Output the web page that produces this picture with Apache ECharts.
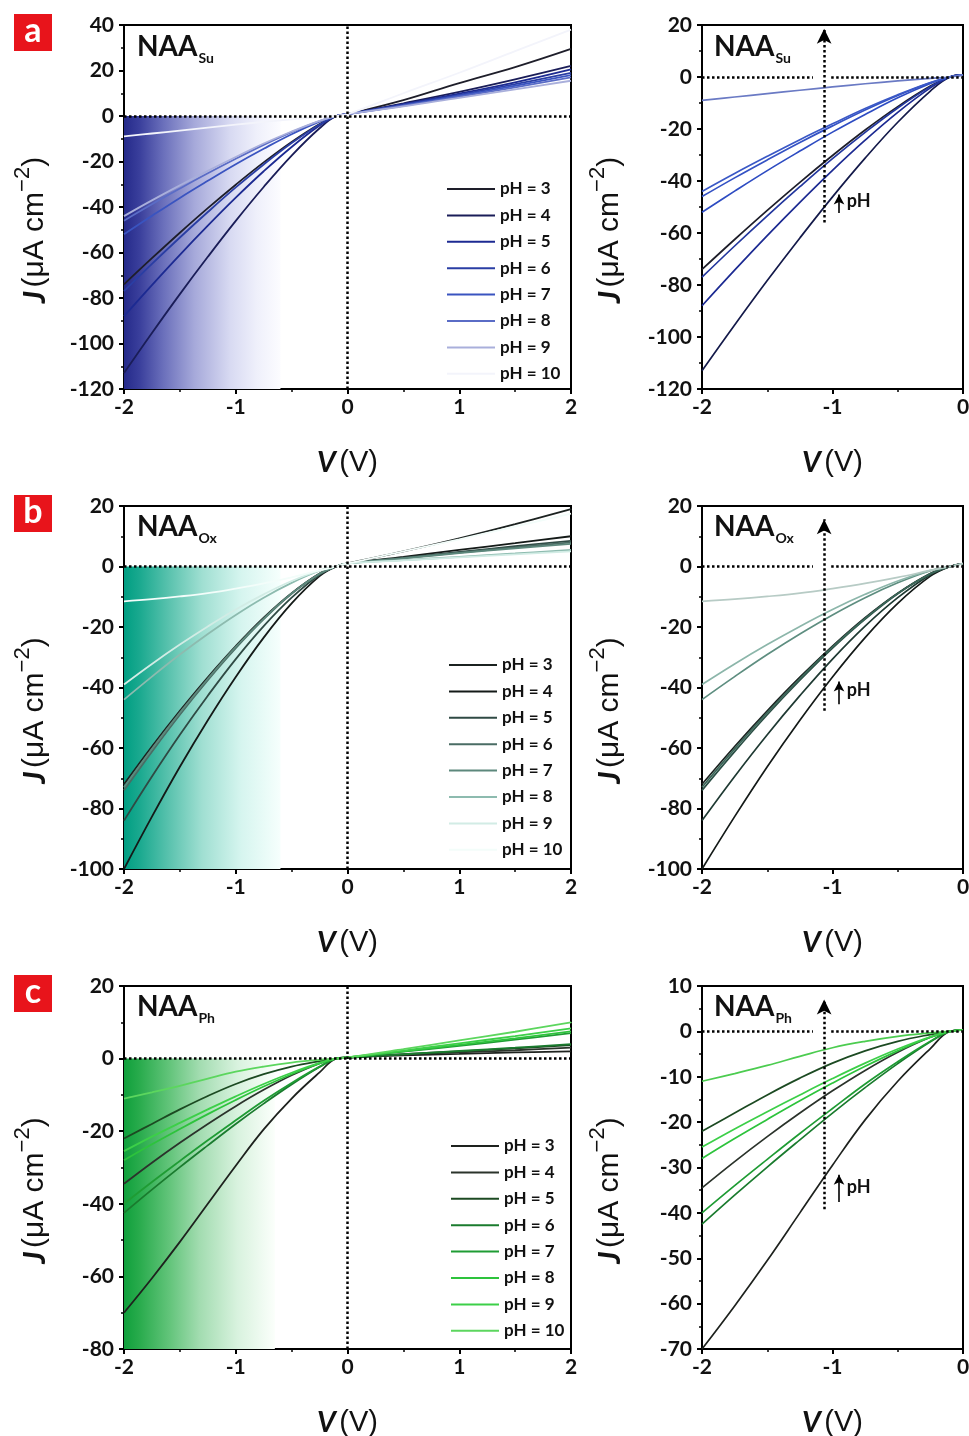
<!DOCTYPE html>
<html><head><meta charset="utf-8">
<script src="https://cdn.jsdelivr.net/npm/echarts@6/dist/echarts.min.js"></script>
<style>html,body{margin:0;padding:0;background:#fff}#c{width:969px;height:1436px}</style>
</head><body><div id="c"></div>
<script>
// ---------- DATA ----------
const V = [-2,-1.75,-1.5,-1.25,-1,-0.75,-0.5,-0.25,-0.1,0,0.5,1,1.5,2];
const pHValues = ['3','4','5','6','7','8','9','10'];

// NAA_Su
const Su_pH3  = [-74,-62.5,-51.3,-40.5,-30.2,-20.4,-11.4,-3.5,0,0.8,7,14.5,21.5,29.5];
const Su_pH4  = [-113,-95.4,-78.3,-61.9,-46.1,-31.2,-17.4,-5.4,0,0.8,5.6,10.6,16.1,22];
const Su_pH5  = [-88,-74.3,-61,-48.2,-35.9,-24.3,-13.6,-4.2,0,0.8,5.2,9.8,14.8,20.5];
const Su_pH6  = [-77,-65,-53.4,-42.2,-31.4,-21.3,-11.9,-3.7,0,0.8,5,9.3,14,19];
const Su_pH7  = [-52,-43.9,-36,-28.5,-21.2,-14.4,-8,-2.5,0,0.8,4.7,8.9,13.3,18];
const Su_pH8  = [-46,-38.8,-31.9,-25.2,-18.8,-12.7,-7.1,-2.2,0,0.8,4.5,8.5,12.6,17];
const Su_pH9  = [-44,-37.1,-30.5,-24.1,-18,-12.1,-6.8,-2.1,0,0.8,4.2,8,11.7,15.5];
const Su_pH10 = [-9,-7.7,-6.4,-5.1,-3.8,-2.6,-1.5,-0.5,0,0.8,10,19,28.5,38];

// NAA_Ox
const Ox_pH3  = [-72,-59.5,-47.7,-36.6,-26.3,-16.9,-8.8,-2.3,0,1,5,9.3,14,19];
const Ox_pH4  = [-100,-82.7,-66.2,-50.8,-36.5,-23.5,-12.2,-3.2,0,1,3.2,5.5,7.7,10];
const Ox_pH5  = [-84,-69.4,-55.6,-42.7,-30.6,-19.7,-10.3,-2.7,0,1,2.9,4.8,6.7,8.5];
const Ox_pH6  = [-74,-61.2,-49,-37.6,-27,-17.4,-9,-2.4,0,1,2.8,4.6,6.3,8];
const Ox_pH7  = [-73,-60.3,-48.3,-37.1,-26.6,-17.2,-8.9,-2.4,0,1,2.7,4.4,6,7.5];
const Ox_pH8  = [-44,-36.4,-29.1,-22.3,-16,-10.3,-5.4,-1.4,0,1,2.1,3.2,4.3,5.5];
const Ox_pH9  = [-39,-32.2,-25.8,-19.8,-14.2,-9.2,-4.8,-1.3,0,1,2,3,4,5];
const Ox_pH10 = [-11.5,-10.8,-9.9,-8.8,-7.3,-5.6,-3.6,-1.3,0,1,5,9,13.2,17.5];

// NAA_Ph
const Ph_pH3  = [-70,-60.5,-50.5,-40,-29.5,-19.5,-11,-3.8,0,0.3,0.9,1.3,1.7,2];
const Ph_pH4  = [-34.5,-28.7,-23.2,-18,-13.1,-8.6,-4.6,-1.3,0,0.3,1.1,1.7,2.3,3];
const Ph_pH5  = [-22,-18,-14,-10.3,-7,-4.3,-2.2,-0.7,0,0.3,1.2,2,2.8,3.7];
const Ph_pH6  = [-42.5,-36.1,-29.9,-23.9,-18,-12.4,-7.1,-2.3,0,0.3,1.2,2.1,3,4];
const Ph_pH7  = [-40,-34,-28.2,-22.5,-17,-11.6,-6.7,-2.2,0,0.3,1.9,3.5,5.2,7];
const Ph_pH8  = [-28,-23.6,-19.4,-15.3,-11.4,-7.7,-4.3,-1.3,0,0.3,2,3.8,5.6,7.5];
const Ph_pH9  = [-25.5,-21.5,-17.7,-14,-10.4,-7,-3.9,-1.2,0,0.3,2.2,4.2,6.2,8.3];
const Ph_pH10 = [-11,-9.3,-7.5,-5.5,-3.6,-2.2,-1.1,-0.35,0,0.3,2.6,5,7.4,10];

const SU = [Su_pH3,Su_pH4,Su_pH5,Su_pH6,Su_pH7,Su_pH8,Su_pH9,Su_pH10];
const OX = [Ox_pH3,Ox_pH4,Ox_pH5,Ox_pH6,Ox_pH7,Ox_pH8,Ox_pH9,Ox_pH10];
const PH = [Ph_pH3,Ph_pH4,Ph_pH5,Ph_pH6,Ph_pH7,Ph_pH8,Ph_pH9,Ph_pH10];

// ---------- STYLE / LAYOUT ----------
const FONT = 'Lato, "Liberation Sans", sans-serif';
const panels = [
  {key:'Su', letter:'a', data:SU, top:25, h:364, yL:[-120,40,20], yR:[-120,20,20],
   colL:['#1e1e2a','#1a1d58','#1c2a92','#2a3ea4','#3a54c0','#5a6cc6','#a9afdb','#f3f4fb'],
   colR:['#1e1e2a','#141a4a','#1c2a92','#23379e','#2e4cc2','#3452c4','#3a58c6','#6a7ac4'],
   grad:[[0,'#252a8a'],[0.1,'#3a3f9c'],[0.25,'#6a6fbb'],[0.45,'#a6a9da'],[0.68,'#d8daf2'],[0.85,'#eff0fb'],[1,'#fcfcff']],
   gradEnd:-0.6, arrow:[-56,18.6], phText:-47.8, phArr:[-52.3,-45.2], legTop:179, legLeft:447, boxY:14, naaY:47},
  {key:'Ox', letter:'b', data:OX, top:506, h:363, yL:[-100,20,20], yR:[-100,20,20],
   colL:['#1b2220','#141a18','#2f4a44','#4a6c64','#5d887c','#8dbbaf','#d2ece5','#f3fdfa'],
   colR:['#1b2220','#141a18','#1f3a33','#2c5046','#3a6658','#5e8e80','#8cb6aa','#b7cbc5'],
   grad:[[0,'#009e82'],[0.1,'#1aa98f'],[0.3,'#5ec4b0'],[0.5,'#a0dfd2'],[0.75,'#d6f5ef'],[1,'#f6fffd']],
   gradEnd:-0.6, arrow:[-47.7,15.6], phText:-41, phArr:[-45.5,-38], legTop:655, legLeft:449, boxY:495, naaY:527},
  {key:'Ph', letter:'c', data:PH, top:986, h:363, yL:[-80,20,20], yR:[-70,10,10],
   colL:['#1e221e','#2b332b','#1c4a22','#1a7b2e','#1f9c34','#2dc33c','#3ccf48','#5cd65e'],
   colR:['#1e221e','#2b332b','#1c4a22','#1a7b2e','#1f9c34','#2dc33c','#3ccf48','#4ccc50'],
   grad:[[0,'#10a03c'],[0.1,'#28ab4c'],[0.3,'#62c47a'],[0.5,'#a2dcb0'],[0.75,'#d8f2de'],[1,'#fbfffb']],
   gradEnd:-0.65, arrow:[-39.2,7], phText:-34.4, phArr:[-37.6,-31.6], legTop:1136, legLeft:451, boxY:975, naaY:1007}
];

const chart = echarts.init(document.getElementById('c'), null, {renderer:'canvas'});
const grids=[], xAxes=[], yAxes=[], series=[], legends=[], graphics=[];
const mctx = document.createElement('canvas').getContext('2d');

function xAxisCfg(gi, max) {
  return {type:'value', gridIndex:gi, min:-2, max:max, interval:1,
    axisLine:{show:true, onZero:false, lineStyle:{color:'#000', width:2}},
    axisTick:{show:true, inside:false, length:5, lineStyle:{color:'#000', width:2}},
    minorTick:{show:true, splitNumber:2, length:3, lineStyle:{color:'#000', width:1.5}},
    splitLine:{show:false},
    axisLabel:{show:true, margin:8, color:'#111', fontSize:21, fontWeight:'bold', fontFamily:FONT, showMinLabel:true, showMaxLabel:true},
    name:'{i|V} {r|(V)}', nameLocation:'middle', nameGap:59,
    nameTextStyle:{rich:{i:{fontSize:29, fontWeight:'bold', fontStyle:'italic', fontFamily:FONT, color:'#111'},
                         r:{fontSize:29, fontFamily:'"Liberation Sans", sans-serif', color:'#111'}}}
  };
}
function yAxisCfg(gi, rng, gap) {
  return {type:'value', gridIndex:gi, min:rng[0], max:rng[1], interval:rng[2],
    axisLine:{show:true, onZero:false, lineStyle:{color:'#000', width:2}},
    axisTick:{show:true, inside:false, length:5, lineStyle:{color:'#000', width:2}},
    minorTick:{show:true, splitNumber:2, length:3, lineStyle:{color:'#000', width:1.5}},
    splitLine:{show:false},
    axisLabel:{show:true, margin:10, color:'#111', fontSize:21, fontWeight:'bold', fontFamily:FONT, showMinLabel:true, showMaxLabel:true},
    name:'{i|J} {r|(μA cm}{s|−2}{r|)}', nameLocation:'middle', nameRotate:90, nameGap:gap,
    nameTextStyle:{padding:[0,46,0,0],
      rich:{i:{fontSize:30, fontWeight:'bold', fontStyle:'italic', fontFamily:FONT, color:'#111', lineHeight:38, verticalAlign:'bottom'},
            r:{fontSize:30, fontFamily:'"Liberation Sans", sans-serif', color:'#111', lineHeight:38, verticalAlign:'bottom'},
            s:{fontSize:22, fontFamily:'"Liberation Sans", sans-serif', color:'#111', lineHeight:38, verticalAlign:'top'}}}
  };
}

panels.forEach((p, r) => {
  const gL = grids.length, gR = gL + 1;
  grids.push({left:124, top:p.top, width:447, height:p.h, show:true, borderColor:'#000', borderWidth:2, containLabel:false, outerBoundsMode:'none'});
  grids.push({left:702, top:p.top, width:261, height:p.h, show:true, borderColor:'#000', borderWidth:2, containLabel:false, outerBoundsMode:'none'});
  xAxes.push(xAxisCfg(gL, 2)); xAxes.push(xAxisCfg(gR, 0));
  yAxes.push(yAxisCfg(gL, p.yL, 74)); yAxes.push(yAxisCfg(gR, p.yR, 77));

  // gradient background (left)
  series.push({type:'line', name:'bg'+r, xAxisIndex:gL, yAxisIndex:gL, data:[], z:1, silent:true, animation:false,
    markArea:{silent:true, animation:false,
      itemStyle:{color:new echarts.graphic.LinearGradient(0,0,1,0,p.grad.map(s=>({offset:s[0], color:s[1]})))},
      data:[[{xAxis:-2, yAxis:0},{xAxis:p.gradEnd, yAxis:p.yL[0]}]]}});

  const names = pHValues.map(v => p.key + ' pH = ' + v);
  p.data.forEach((arr, k) => {
    series.push({type:'line', name:names[k], xAxisIndex:gL, yAxisIndex:gL,
      data:V.map((v,i)=>[v, arr[i]]), showSymbol:false, smooth:0.4,
      color:p.colL[k], lineStyle:{width:1.8, color:p.colL[k]}, itemStyle:{color:p.colL[k]}, z:3, animation:false, silent:true});
  });
  p.data.forEach((arr, k) => {
    series.push({type:'line', name:names[k], xAxisIndex:gR, yAxisIndex:gR,
      data:V.map((v,i)=>[v, arr[i]]).filter(d=>d[0]<=0), showSymbol:false, smooth:0.4,
      color:p.colR[k], lineStyle:{width:1.7, color:p.colR[k]}, itemStyle:{color:p.colR[k]}, z:3, animation:false, silent:true});
  });

  const dot = {type:'dotted', color:'#000', width:2.5};
  series.push({type:'line', name:'ml'+r, xAxisIndex:gL, yAxisIndex:gL, data:[], z:4, silent:true, animation:false,
    markLine:{silent:true, animation:false, symbol:'none', label:{show:false}, lineStyle:dot,
      data:[[{coord:[-2,0]},{coord:[2,0]}],[{coord:[0,p.yL[0]]},{coord:[0,p.yL[1]]}]]}});
  series.push({type:'line', name:'mr'+r, xAxisIndex:gR, yAxisIndex:gR, data:[], z:4, silent:true, animation:false,
    markLine:{silent:true, animation:false, symbol:'none', label:{show:false}, lineStyle:dot,
      data:[
        [{coord:[-2,0]},{coord:[-1.15,0]}],
        [{coord:[-1.01,0]},{coord:[0,0]}],
        [{coord:[-1.064,p.arrow[0]], symbol:'none'},{coord:[-1.064,p.arrow[1]], symbol:'arrow', symbolSize:[11,15]}],
        [{coord:[-0.95,p.phArr[0]], symbol:'none', lineStyle:{type:'solid', width:1.6, color:'#000'}},
         {coord:[-0.95,p.phArr[1]], symbol:'arrow', symbolSize:[8,10], lineStyle:{type:'solid', width:1.6, color:'#000'}}]
      ]},
    markPoint:{silent:true, animation:false, symbol:'circle', symbolSize:0,
      label:{show:true, position:'right', distance:0, formatter:'pH', color:'#111', fontSize:18, fontWeight:'bold', fontFamily:FONT},
      data:[{coord:[-0.89, p.phText]}]}});

  legends.push({data:names, orient:'vertical', left:p.legLeft, top:p.legTop, itemWidth:48, itemHeight:2, icon:'rect',
    itemGap:6.4, selectedMode:false, padding:0,
    textStyle:{fontSize:17, fontWeight:'bold', fontFamily:FONT, color:'#111', lineHeight:20},
    formatter:n => n.replace(/^\w+ /,'')});

  // panel letter box
  graphics.push({type:'rect', shape:{x:14, y:p.boxY, width:38, height:37}, style:{fill:'#e8141b'}, z:10});
  graphics.push({type:'text', x:33, y:p.boxY+17, z:11,
    style:{text:p.letter, fill:'#fff', font:'bold 34px '+FONT, align:'center', verticalAlign:'middle', textAlign:'center', textVerticalAlign:'middle'}});
  // NAA labels
  mctx.font = 'bold 28px ' + FONT;
  const w = mctx.measureText('NAA').width;
  [137, 714].forEach(x0 => {
    graphics.push({type:'text', x:x0, y:p.naaY, z:11,
      style:{text:'NAA', fill:'#111', font:'bold 28px '+FONT, align:'left', verticalAlign:'middle', textAlign:'left', textVerticalAlign:'middle'}});
    graphics.push({type:'text', x:x0+w+1, y:p.naaY+11, z:11,
      style:{text:p.key, fill:'#111', font:'bold 14px '+FONT, align:'left', verticalAlign:'middle', textAlign:'left', textVerticalAlign:'middle'}});
  });
});

chart.setOption({animation:false, backgroundColor:'#fff', grid:grids, xAxis:xAxes, yAxis:yAxes, series:series, legend:legends, graphic:graphics});
</script></body></html>
